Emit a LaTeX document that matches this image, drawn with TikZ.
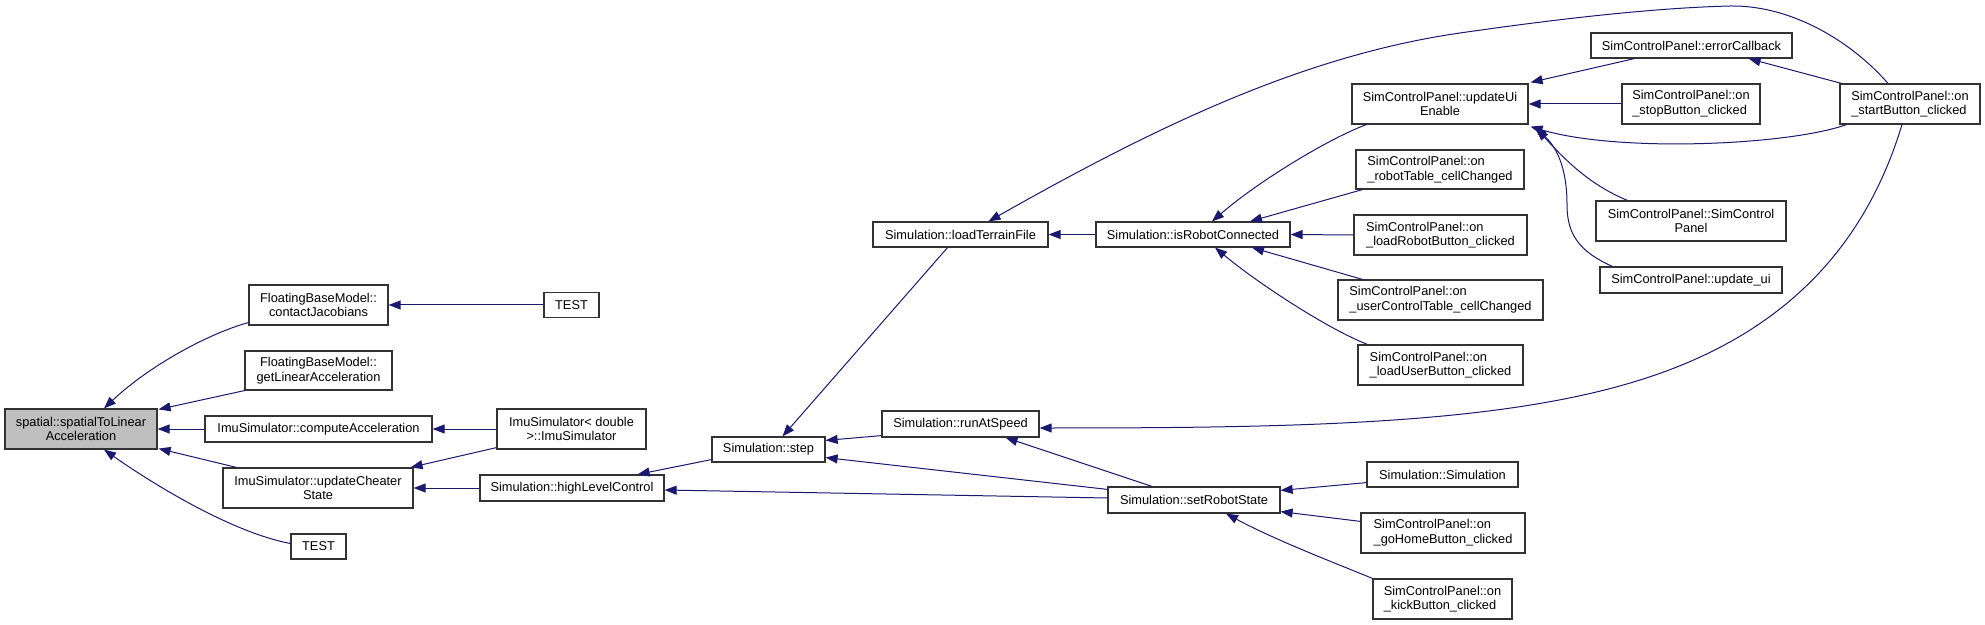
\documentclass[tikz,border=0pt]{standalone}
\usepackage{fontspec}
\setmainfont{Liberation Sans}
\usetikzlibrary{arrows.meta,calc}
\definecolor{edgeblue}{HTML}{191970}
\definecolor{nodegray}{HTML}{BFBFBF}
\begin{document}
\begin{tikzpicture}[x=0.5pt,y=-0.5pt,
  box/.style={draw=black!80, line width=0.6pt, fill=white, inner sep=0pt,
    font=\fontsize{6.4}{7.35}\selectfont, align=center},
  lbox/.style={box, align=left},
  edge/.style={draw=edgeblue, line width=0.5pt, -{Triangle[length=6pt,width=4.5pt]}}]
\fill[white] (0,0) rectangle (1985,625);
\useasboundingbox (0,0) rectangle (1985,625);
% nodes
\node[box, fill=nodegray, minimum width=76pt, minimum height=20pt] (spatial) at (81,429) {spatial::spatialToLinear\\Acceleration};
\node[box, minimum width=69.5pt, minimum height=20pt] (cj) at (318.5,305) {FloatingBaseModel::\\contactJacobians};
\node[box, minimum width=73.5pt, minimum height=19.5pt] (gla) at (318.5,370.5) {FloatingBaseModel::\\getLinearAcceleration};
\node[box, minimum width=113.5pt, minimum height=13pt] (ca) at (318.5,429) {ImuSimulator::computeAcceleration};
\node[box, minimum width=95pt, minimum height=20pt] (uc) at (318,488) {ImuSimulator::updateCheater\\State};
\node[box, minimum width=27.5pt, minimum height=12.5pt] (testb) at (318.5,546.5) {TEST};
\node[box, minimum width=27.5pt, minimum height=12.5pt] (testa) at (571.5,305) {TEST};
\node[box, minimum width=74.5pt, minimum height=20pt] (imus) at (571.5,429) {ImuSimulator< double\\ >::ImuSimulator};
\node[box, minimum width=92pt, minimum height=13pt] (hlc) at (572,488) {Simulation::highLevelControl};
\node[box, minimum width=87.5pt, minimum height=12.5pt] (ltf) at (960.5,234.5) {Simulation::loadTerrainFile};
\node[box, minimum width=56.5pt, minimum height=12.5pt] (step) at (768.5,449.5) {Simulation::step};
\node[box, minimum width=78.5pt, minimum height=13pt] (ras) at (960.5,424) {Simulation::runAtSpeed};
\node[box, minimum width=86pt, minimum height=13pt] (srs) at (1194,500) {Simulation::setRobotState};
\node[box, minimum width=97pt, minimum height=12.5pt] (irc) at (1193,234.5) {Simulation::isRobotConnected};
\node[box, minimum width=88pt, minimum height=20pt] (uue) at (1440,104) {SimControlPanel::updateUi\\Enable};
\node[lbox, minimum width=84pt, minimum height=19.5pt] (rtc) at (1440,169.5) {SimControlPanel::on\\\_robotTable\_cellChanged};
\node[lbox, minimum width=86.5pt, minimum height=20pt] (lrb) at (1440.5,235) {SimControlPanel::on\\\_loadRobotButton\_clicked};
\node[lbox, minimum width=102.5pt, minimum height=20pt] (uct) at (1440.5,300) {SimControlPanel::on\\\_userControlTable\_cellChanged};
\node[lbox, minimum width=82.5pt, minimum height=20pt] (lub) at (1440.5,365) {SimControlPanel::on\\\_loadUserButton\_clicked};
\node[box, minimum width=100.5pt, minimum height=12.5pt] (ecb) at (1691.5,45.5) {SimControlPanel::errorCallback};
\node[lbox, minimum width=69pt, minimum height=20pt] (stop) at (1691,104) {SimControlPanel::on\\\_stopButton\_clicked};
\node[lbox, minimum width=70pt, minimum height=20pt] (start) at (1910,104) {SimControlPanel::on\\\_startButton\_clicked};
\node[box, minimum width=95pt, minimum height=20pt] (scp) at (1691,221) {SimControlPanel::SimControl\\Panel};
\node[box, minimum width=91pt, minimum height=13pt] (uui) at (1691,280) {SimControlPanel::update\_ui};
\node[box, minimum width=75.5pt, minimum height=12.5pt] (simsim) at (1442.5,474.5) {Simulation::Simulation};
\node[lbox, minimum width=82pt, minimum height=20pt] (gohome) at (1443,533) {SimControlPanel::on\\\_goHomeButton\_clicked};
\node[lbox, minimum width=69.5pt, minimum height=20pt] (kick) at (1442.5,599) {SimControlPanel::on\\\_kickButton\_clicked};
% edges
\draw[edge] ($(cj.south west)+(0,-3)$) .. controls (210,333) and (150,365) .. ($(spatial.north)+(23,0)$);
\draw[edge] (gla.south west) -- ($(spatial.north east)+(1,1)$);
\draw[edge] (ca.west) -- (spatial.east);
\draw[edge] ($(uc.north west)+(14,0)$) -- ($(spatial.south east)+(1,-1)$);
\draw[edge] ($(testb.west)+(0,-3)$) .. controls (230,532) and (150,482) .. ($(spatial.south)+(23,0)$);
\draw[edge] (testa.west) -- (cj.east);
\draw[edge] (imus.west) -- (ca.east);
\draw[edge] ($(imus.south west)+(0,-2)$) -- ($(uc.north east)+(-3,0)$);
\draw[edge] (hlc.west) -- (uc.east);
\draw[edge] ($(step.south west)+(0,-3)$) -- ($(hlc.north east)+(-27,0)$);
\draw[edge] ($(srs.west)+(0,-2)$) -- ($(hlc.east)+(0,2)$);
\draw[edge] ($(ltf.south)+(-13,0)$) -- ($(step.north)+(14,0)$);
\draw[edge] ($(ras.south west)+(0,-2)$) -- ($(step.north east)+(0,4)$);
\draw[edge] ($(srs.north west)+(0,3)$) -- ($(step.south east)+(0,-5)$);
\draw[edge] (irc.west) -- (ltf.east);
\draw[edge] ($(start.north)+(-22,0)$) .. controls (1850,40) and (1790,5) .. (1730,6) .. controls (1650,8) and (1550,20) .. (1460,33) .. controls (1300,56) and (1150,130) .. ($(ltf.north)+(28,0)$);
\draw[edge] ($(uue.south west)+(15,0)$) .. controls (1330,138) and (1260,180) .. ($(irc.north)+(19,0)$);
\draw[edge] ($(rtc.south west)+(7,0)$) -- ($(irc.north)+(57,0)$);
\draw[edge] (lrb.west) -- (irc.east);
\draw[edge] ($(uct.north west)+(25,0)$) -- ($(irc.south)+(59,0)$);
\draw[edge] ($(lub.north west)+(10,0)$) .. controls (1330,330) and (1260,285) .. ($(irc.south)+(22,0)$);
\draw[edge] ($(ecb.south west)+(44,0)$) -- ($(uue.north east)+(2,-1)$);
\draw[edge] (stop.west) -- (uue.east);
\draw[edge] ($(start.south west)+(7,0)$) .. controls (1790,145) and (1620,153) .. ($(uue.south east)+(2,2)$);
\draw[edge] ($(scp.north west)+(32,0)$) .. controls (1590,185) and (1565,160) .. ($(uue.south east)+(8,4)$);
\draw[edge] ($(uui.north west)+(13,0)$) .. controls (1580,252) and (1567,235) .. (1567,205) .. controls (1567,165) and (1555,145) .. ($(uue.south east)+(6,3)$);
\draw[edge] ($(start.north west)+(2,0)$) -- ($(ecb.south east)+(-44,0)$);
\draw[edge] ($(start.south)+(-8,0)$) .. controls (1870,230) and (1800,330) .. (1640,380) .. controls (1500,424) and (1300,428) .. ($(ras.east)+(0,4)$);
\draw[edge] ($(srs.north)+(-42,0)$) -- ($(ras.south)+(45,0)$);
\draw[edge] ($(simsim.south west)+(0,-5)$) -- ($(srs.north east)+(0,4)$);
\draw[edge] ($(gohome.north west)+(0,9)$) -- ($(srs.south east)+(0,-2)$);
\draw[edge] (kick.north west) .. controls (1335,563) and (1275,540) .. ($(srs.south)+(32,0)$);
\end{tikzpicture}
\end{document}
